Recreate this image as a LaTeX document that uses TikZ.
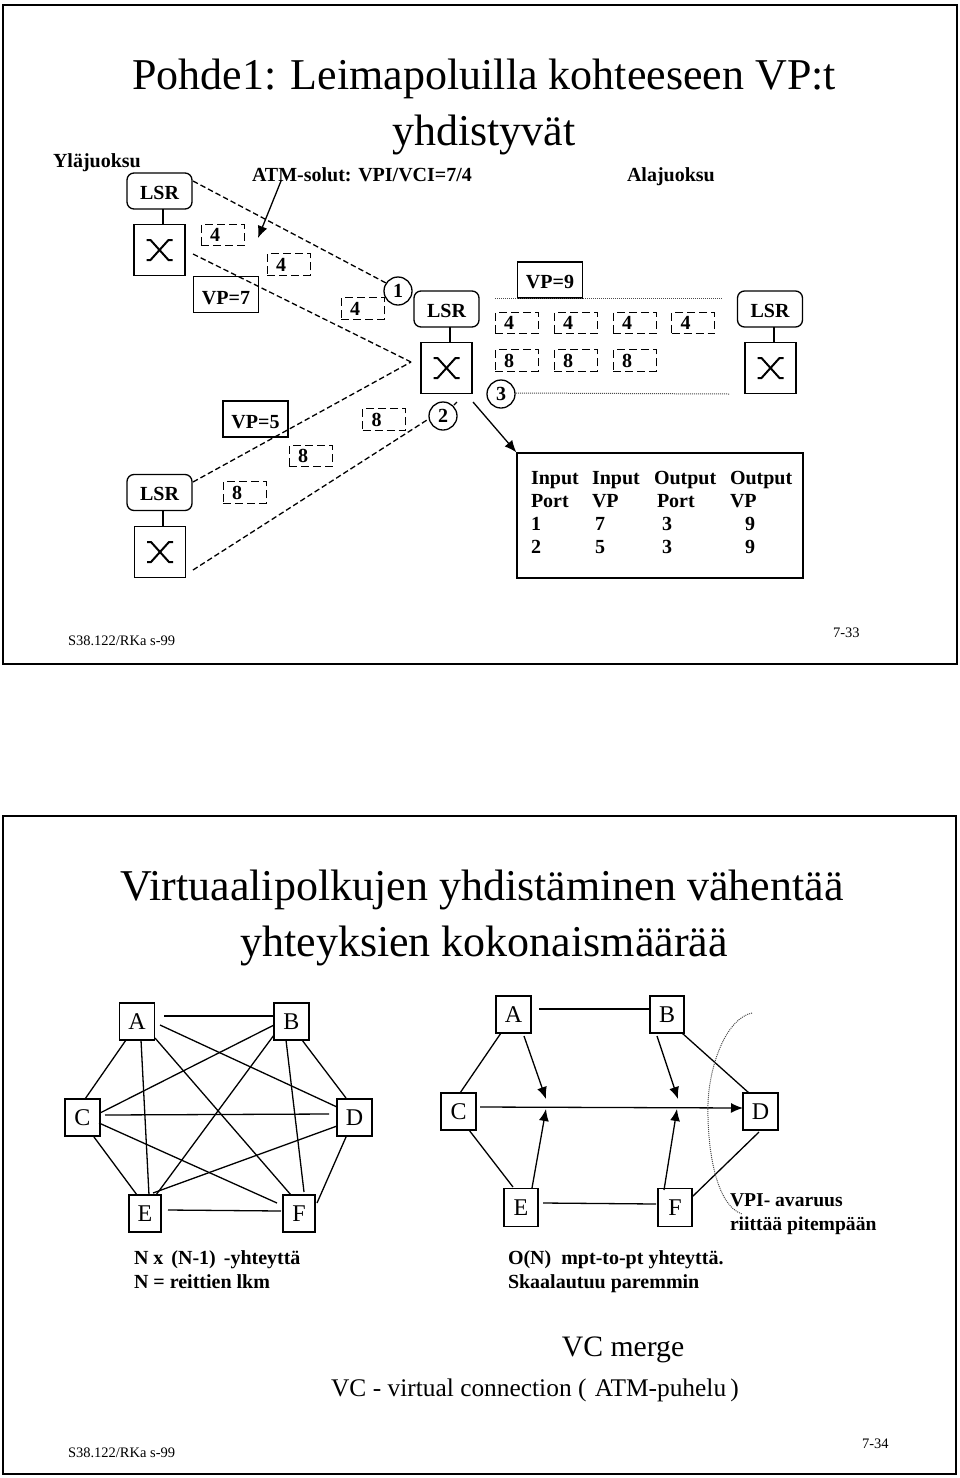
\documentclass[tikz,border=0pt]{standalone}
\usepackage{fontspec}
\setmainfont{Liberation Serif}
\usetikzlibrary{arrows.meta}
\newcommand{\fsz}[1]{\fontsize{#1}{#1}\selectfont}
\newcommand{\off}[3]{([shift={(#2,#3)}]#1.center)}
\newcommand{\lowtxt}[2]{\raisebox{-#1pt}[\height][0pt]{#2}}
\tikzset{
  x=1pt,y=-1pt,
  lbl/.style={inner sep=0pt,outer sep=0pt,anchor=base west,font=\bfseries\fsz{20}},
  big/.style={inner sep=0pt,outer sep=0pt,anchor=base,font=\fsz{44}},
  foot/.style={inner sep=0pt,outer sep=0pt,anchor=base west,font=\fsz{14.5}},
  frame/.style={draw,line width=2.2pt},
  lsr/.style={draw,line width=1.3pt,rounded corners=7pt,minimum width=65pt,minimum height=36pt,inner sep=0pt,font=\bfseries\fsz{20}},
  swbox/.style={draw,line width=1.3pt,minimum width=51pt,minimum height=51pt,inner sep=0pt},
  vpbox/.style={draw,line width=1.3pt,minimum width=65pt,minimum height=36pt,inner sep=0pt,font=\bfseries\fsz{20}},
  dbox/.style={draw,line width=1pt,dash pattern=on 8pt off 4pt,minimum width=43pt,minimum height=21.5pt,inner sep=0pt,text width=43pt,align=left,font=\bfseries\fsz{20}},
  circ/.style={draw,circle,line width=1.3pt,minimum size=28pt,inner sep=0pt,font=\bfseries\fsz{20}},
  dline/.style={line width=1.3pt,dash pattern=on 5.5pt off 3pt},
  dotl/.style={line width=1pt,dash pattern=on 1pt off 1pt,gray!60!black},
  nbox/.style={draw,line width=1.3pt,inner sep=0pt,font=\fsz{24}},
  conn/.style={line width=1.3pt},
  arr/.style={line width=1.3pt,-{Latex[length=12pt,width=10pt]}},
  xsym/.style={line width=2pt},
}
\newcommand{\xat}[1]{\draw[xsym] \off{#1}{-13}{-10} -- \off{#1}{-9}{-10} -- \off{#1}{9}{10} -- \off{#1}{13}{10};
  \draw[xsym] \off{#1}{-13}{10} -- \off{#1}{-9}{10} -- \off{#1}{9}{-10} -- \off{#1}{13}{-10};}
\newcommand{\dnum}[1]{\hspace*{9pt}#1}
\begin{document}
\begin{tikzpicture}
\useasboundingbox (0,0) rectangle (960,1478);
\draw[frame] (3,5) rectangle (957,664);
\draw[frame] (3,816) rectangle (956,1474);
% titles slide 1
\node[big] (t1) at (484,89) {Pohde1: Leimapoluilla kohteeseen VP:t};
\node[big] (t2) at (484,145) {yhdistyvät};
\node[lbl] (yla) at (53,167) {Yläjuoksu};
\node[lbl] (atm) at (252,181) {ATM-solut: VPI/VCI=7/4};
\node[lbl] (ala) at (627,181) {Alajuoksu};
% LSR + switches
\node[lsr] (L1) at (159.5,191) {\lowtxt{2}{LSR}};
\node[swbox] (S1) at (159.5,250) {};
\node[lsr] (L2) at (446.5,309) {\lowtxt{2}{LSR}};
\node[swbox] (S2) at (446.5,368) {};
\node[lsr] (L3) at (770,309) {\lowtxt{2}{LSR}};
\node[swbox] (S3) at (770.5,368) {};
\node[lsr] (L4) at (159.5,492.5) {\lowtxt{1}{LSR}};
\node[swbox] (S4) at (160,552) {};
\xat{S1}\xat{S2}\xat{S3}\xat{S4}
\draw[conn] \off{L1}{3.5}{18} -- \off{S1}{3.5}{-25.5};
\draw[conn] \off{L2}{3.5}{18} -- \off{S2}{3.5}{-25.5};
\draw[conn] \off{L3}{4}{18} -- \off{S3}{3.5}{-25.5};
\draw[conn] \off{L4}{3.5}{18} -- \off{S4}{3}{-25};
% VP boxes
\node[vpbox] (v7) at (226,294.5) {\lowtxt{3}{VP=7}};
\node[vpbox] (v5) at (255.5,419) {\lowtxt{3}{VP=5}};
\node[vpbox] (v9) at (550,280) {\lowtxt{2}{VP=9}};
% circles
\node[circ] (c1) at (398,291) {1};
\node[circ] (c2) at (443,416) {2};
\node[circ] (c3) at (501,394) {3};
\coordinate (mrg) at (411,362);
\coordinate (tic) at (457,402);
\coordinate (dA) at (722,298);
\coordinate (dB) at (729,394);
\coordinate (atip) at (258,238);
\coordinate (as) at (281,181);
% dashed links
\draw[dline] \off{L1}{33.5}{-10} -- \off{c1}{-12}{-8};
\draw[dline] \off{S1}{33.5}{4} -- (mrg);
\draw[dline] \off{L4}{33.5}{-10.5} -- (mrg);
\draw[dline] \off{S4}{33}{18} -- \off{c2}{-16}{4};
\draw[dline] \off{c2}{11}{-11} -- (tic);
\draw[dotl] \off{v9}{-55}{18} -- (dA);
\draw[dotl] \off{c3}{15}{-1} -- (dB);
% dashed cell boxes
\node[dbox] (a1) at (222.5,235) {\dnum{4}};
\node[dbox] (a2) at (288.5,264.5) {\dnum{4}};
\node[dbox] (a3) at (362.5,308.5) {\dnum{4}};
\node[dbox] (a4) at (384,419.5) {\dnum{8}};
\node[dbox] (a5) at (310.5,456) {\dnum{8}};
\node[dbox] (a6) at (244.5,492.5) {\dnum{8}};
\node[dbox] (b1) at (516.5,323) {\dnum{4}};
\node[dbox] (b2) at (575.5,323) {\dnum{4}};
\node[dbox] (b3) at (634.5,323) {\dnum{4}};
\node[dbox] (b4) at (693,323) {\dnum{4}};
\node[dbox] (e1) at (516.5,360.5) {\dnum{8}};
\node[dbox] (e2) at (575.5,360.5) {\dnum{8}};
\node[dbox] (e3) at (634.5,360.5) {\dnum{8}};
% table
\node[draw,line width=1.3pt,minimum width=286pt,minimum height=125pt,inner sep=0pt] (tab) at (660,515.5) {};
\draw[arr] (as) -- (atip);
\draw[arr] \off{S2}{26.5}{34} -- (tab.north west);
\foreach \n/\x/\y/\s in {p1/531/484/Input,p2/592/484/Input,p3/654/484/Output,p4/730/484/Output,
  q1/531/507/Port,q2/592/507/VP,q3/657/507/Port,q4/730/507/VP,
  r1/531/530/1,r2/595/530/7,r3/662/530/3,r4/745/530/9,
  s1/531/553/2,s2/595/553/5,s3/662/553/3,s4/745/553/9}
  \node[lbl] (\n) at (\x,\y) {\s};
\node[foot] (f1) at (68,645) {S38.122/RKa s-99};
\node[foot] (f2) at (833,637) {7-33};
% slide 2
\node[big] (u1) at (482,900) {Virtuaalipolkujen yhdistäminen vähentää};
\node[big] (u2) at (484,956) {yhteyksien kokonaismäärää};
% left graph
\node[nbox,minimum width=35pt,minimum height=37pt] (A) at (137,1021.5) {A};
\node[nbox,minimum width=35pt,minimum height=37pt] (B) at (291.5,1021.5) {B};
\node[nbox,minimum width=35pt,minimum height=37pt] (C) at (82.5,1117.5) {C};
\node[nbox,minimum width=35pt,minimum height=37pt] (D) at (354.5,1117.5) {D};
\node[nbox,minimum width=32pt,minimum height=37pt] (E) at (145,1213.5) {E};
\node[nbox,minimum width=32pt,minimum height=37pt] (F) at (299,1213.5) {F};
\draw[conn] \off{A}{27}{-5.5} -- \off{B}{-17.5}{-5.5};
\draw[conn] \off{A}{23}{3.5} -- \off{D}{-17.5}{-10.5};
\draw[conn] \off{A}{-11}{18.5} -- \off{C}{2.5}{-18.5};
\draw[conn] \off{A}{4}{18.5} -- \off{E}{4}{-18.5};
\draw[conn] \off{A}{18}{16.5} -- \off{F}{-8}{-18.5};
\draw[conn] \off{B}{-17.5}{3.5} -- \off{C}{17.5}{-4.5};
\draw[conn] \off{B}{-17.5}{13.5} -- \off{E}{11}{-18.5};
\draw[conn] \off{B}{-5.5}{18.5} -- \off{F}{5}{-21.5};
\draw[conn] \off{B}{10.5}{18.5} -- \off{D}{-8.5}{-19.5};
\draw[conn] \off{C}{22.5}{-2.5} -- \off{D}{-25.5}{-3.5};
\draw[conn] \off{C}{11.5}{19.5} -- \off{E}{-8}{-18.5};
\draw[conn] \off{C}{16.5}{5.5} -- \off{F}{-22}{-10.5};
\draw[conn] \off{D}{-17.5}{8.5} -- \off{E}{8}{-20.5};
\draw[conn] \off{D}{-8.5}{19.5} -- \off{F}{18}{-10.5};
\draw[conn] \off{E}{23}{-3.5} -- \off{F}{-18}{-2.5};
% right graph
\node[nbox,minimum width=35pt,minimum height=37pt] (RA) at (513.5,1014.5) {A};
\node[nbox,minimum width=34pt,minimum height=37pt] (RB) at (667,1014.5) {B};
\node[nbox,minimum width=35pt,minimum height=37pt] (RC) at (458.5,1111.5) {C};
\node[nbox,minimum width=35pt,minimum height=37pt] (RD) at (760.5,1111.5) {D};
\node[nbox,minimum width=34pt,minimum height=38pt] (RE) at (521,1207.5) {E};
\node[nbox,minimum width=34pt,minimum height=38pt] (RF) at (675,1207.5) {F};
\coordinate (m1) at (546,1099);
\coordinate (m2) at (678,1099);
\coordinate (m3) at (546,1109);
\coordinate (m4) at (677,1109);
\draw[conn] \off{RA}{25.5}{-5.5} -- \off{RB}{-17}{-5.5};
\draw[conn] \off{RA}{-12.5}{18.5} -- \off{RC}{1.5}{-18.5};
\draw[conn] \off{RB}{15}{18.5} -- \off{RD}{-11.5}{-18.5};
\draw[conn] \off{RC}{10.5}{18.5} -- \off{RE}{-8}{-20.5};
\draw[conn] \off{RD}{-1.5}{20.5} -- \off{RF}{17}{-10.5};
\draw[conn] \off{RE}{22}{-4.5} -- \off{RF}{-19}{-3.5};
\draw[arr] \off{RA}{10.5}{21.5} -- (m1);
\draw[arr] \off{RB}{-10}{21.5} -- (m2);
\draw[arr] \off{RE}{11}{-19.5} -- (m3);
\draw[arr] \off{RF}{-11}{-17.5} -- (m4);
\draw[arr] \off{RC}{21.5}{-4.5} -- \off{RD}{-17.5}{-3.5};
\draw[dotl] (752,1013) .. controls (728,1018) and (710,1060) .. (708,1103)
  .. controls (707,1150) and (716,1205) .. (742,1214);
% texts
\node[lbl] (n1) at (134,1264) {N x\hspace{.4em}(N-1)\hspace{.4em}-yhteyttä};
\node[lbl] (n2) at (134,1288) {N = reittien lkm};
\node[lbl] (o1) at (508,1264) {O(N)\hspace{.5em}mpt-to-pt yhteyttä.};
\node[lbl] (o2) at (508,1288) {Skaalautuu paremmin};
\node[lbl,font=\bfseries\fsz{19.6}] (w1) at (730,1206) {VPI- avaruus};
\node[lbl,font=\bfseries\fsz{19.6}] (w2) at (730,1230) {riittää pitempään};
\node[inner sep=0pt,anchor=base,font=\fsz{29.7}] (vc1) at (623,1356) {VC merge};
\node[inner sep=0pt,anchor=base,font=\fsz{25.4}] (vc2) at (535,1396) {VC - virtual connection (\,\,ATM-puhelu\,)};
\node[foot] (g1) at (68,1457) {S38.122/RKa s-99};
\node[foot] (g2) at (862,1448) {7-34};
\end{tikzpicture}
\end{document}
